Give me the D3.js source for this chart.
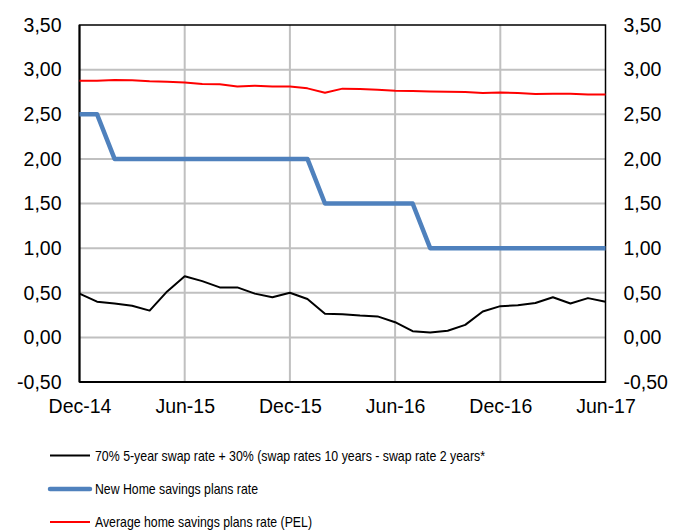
<!DOCTYPE html>
<html>
<head>
<meta charset="utf-8">
<script src="https://cdn.jsdelivr.net/npm/d3@7"></script>
<style>
	body { margin: 0; background: #fff; }
	svg text { font-family: "Liberation Sans", Arial, sans-serif; fill: #000; }
</style>
</head>
<body>
<script>
// months from Dec-14 to Jun-17, one point per month
var months = ["Dec-14", "Jan-15", "Feb-15", "Mar-15", "Apr-15", "May-15", "Jun-15", "Jul-15", "Aug-15", "Sep-15",
	"Oct-15", "Nov-15", "Dec-15", "Jan-16", "Feb-16", "Mar-16", "Apr-16", "May-16", "Jun-16", "Jul-16",
	"Aug-16", "Sep-16", "Oct-16", "Nov-16", "Dec-16", "Jan-17", "Feb-17", "Mar-17", "Apr-17", "May-17", "Jun-17"];

var swapRate = [0.49, 0.40, 0.38, 0.355, 0.30, 0.515, 0.685, 0.63, 0.56, 0.56,
	0.49, 0.45, 0.50, 0.43, 0.265, 0.26, 0.245, 0.235, 0.17, 0.07,
	0.055, 0.075, 0.14, 0.29, 0.35, 0.36, 0.385, 0.45, 0.38, 0.44, 0.40];

var newPelRate = [2.5, 2.5, 2.0, 2.0, 2.0, 2.0, 2.0, 2.0, 2.0, 2.0,
	2.0, 2.0, 2.0, 2.0, 1.5, 1.5, 1.5, 1.5, 1.5, 1.5,
	1.0, 1.0, 1.0, 1.0, 1.0, 1.0, 1.0, 1.0, 1.0, 1.0, 1.0];

var avgPelRate = [2.876, 2.876, 2.884, 2.88, 2.87, 2.865, 2.857, 2.84, 2.835, 2.81,
	2.82, 2.812, 2.81, 2.79, 2.74, 2.787, 2.783, 2.775, 2.764, 2.76,
	2.756, 2.752, 2.748, 2.738, 2.745, 2.738, 2.727, 2.73, 2.73, 2.72, 2.72];

var xTickLabels = ["Dec-14", "Jun-15", "Dec-15", "Jun-16", "Dec-16", "Jun-17"];
var yTicks = [-0.5, 0, 0.5, 1, 1.5, 2, 2.5, 3, 3.5];

var legendLabels = [
	"70% 5-year swap rate + 30% (swap rates 10 years - swap rate 2 years*",
	"New Home savings plans rate",
	"Average home savings plans rate (PEL)"
];

var width = 675, height = 531;
var mLeft = 79.5, mRight = 605.5, mTop = 25, mBottom = 382;

var svg = d3.select("body").append("svg")
	.attr("width", width)
	.attr("height", height);

var x = d3.scaleLinear()
	.domain([0, months.length - 1])
	.range([mLeft, mRight]);

var y = d3.scaleLinear()
	.domain([-0.5, 3.5])
	.range([mBottom, mTop]);

// comma decimals, plain hyphen for negatives
var fmt = d => d3.format(".2f")(d).replace(".", ",").replace("\u2212", "-");

// gridlines
var grid = svg.append("g");
grid.selectAll(".hg")
	.data(yTicks.slice(1, -1))
	.enter()
	.append("line")
	.attr("x1", mLeft).attr("x2", mRight)
	.attr("y1", d => y(d)).attr("y2", d => y(d))
	.attr("stroke", "#c0c0c0")
	.attr("stroke-width", 2);

grid.selectAll(".vg")
	.data(xTickLabels.slice(1, -1))
	.enter()
	.append("line")
	.attr("x1", d => x(months.indexOf(d))).attr("x2", d => x(months.indexOf(d)))
	.attr("y1", mTop).attr("y2", mBottom)
	.attr("stroke", "#c0c0c0")
	.attr("stroke-width", 2);

// y axes on both sides
var yLeft = d3.axisLeft(y).tickValues(yTicks).tickFormat(fmt).tickSize(0).tickPadding(18);
var yRight = d3.axisRight(y).tickValues(yTicks).tickFormat(fmt).tickSize(0).tickPadding(18);

var gl = svg.append("g").attr("transform", "translate(" + mLeft + ",0)").call(yLeft);
var gr = svg.append("g").attr("transform", "translate(" + mRight + ",0)").call(yRight);
[gl, gr].forEach(g => {
	g.select(".domain").remove();
	g.selectAll("text").style("font-size", "19.5px").style("font-family", "'Liberation Sans', Arial, sans-serif");
});

// x axis labels
var xAxis = d3.axisBottom(x)
	.tickValues(xTickLabels.map(d => months.indexOf(d)))
	.tickFormat(i => months[i])
	.tickSize(0)
	.tickPadding(17);

var gx = svg.append("g").attr("transform", "translate(0," + mBottom + ")").call(xAxis);
gx.select(".domain").remove();
gx.selectAll("text").style("font-size", "19.5px").style("font-family", "'Liberation Sans', Arial, sans-serif");

// frame
svg.append("rect")
	.attr("x", mLeft).attr("y", mTop)
	.attr("width", mRight - mLeft).attr("height", mBottom - mTop)
	.attr("fill", "none")
	.attr("stroke", "#000")
	.attr("stroke-width", 1.5);
svg.append("line")
	.attr("x1", mLeft).attr("x2", mLeft).attr("y1", mTop).attr("y2", mBottom)
	.attr("stroke", "#000").attr("stroke-width", 2);
svg.append("line")
	.attr("x1", mLeft).attr("x2", mRight).attr("y1", mBottom).attr("y2", mBottom)
	.attr("stroke", "#000").attr("stroke-width", 2);

var line = d3.line()
	.x((d, i) => x(i))
	.y(d => y(d));

var series = [
	{ values: swapRate, color: "#000000", w: 2 },
	{ values: newPelRate, color: "#4f81bd", w: 4.5 },
	{ values: avgPelRate, color: "#ff0000", w: 2 }
];

svg.append("g")
	.selectAll("path")
	.data([series[0], series[2], series[1]])
	.enter()
	.append("path")
	.attr("d", d => line(d.values))
	.attr("fill", "none")
	.attr("stroke", d => d.color)
	.attr("stroke-width", d => d.w)
	.attr("stroke-linejoin", "round");

// legend
var legendY = [455.5, 489, 522];
var legendW = [390, 163, 217];
var lg = svg.append("g")
	.selectAll("g")
	.data(series)
	.enter()
	.append("g")
	.attr("transform", (d, i) => "translate(0," + legendY[i] + ")");

lg.append("line")
	.attr("x1", 50).attr("x2", 90)
	.attr("stroke", d => d.color)
	.attr("stroke-width", d => d.w)
	.attr("stroke-linecap", d => d.w > 3 ? "round" : "butt");

lg.append("text")
	.attr("x", 95)
	.attr("dy", "0.36em")
	.style("font-size", "14.5px")
	.attr("textLength", (d, i) => legendW[i])
	.attr("lengthAdjust", "spacingAndGlyphs")
	.text((d, i) => legendLabels[i]);
</script>
</body>
</html>
